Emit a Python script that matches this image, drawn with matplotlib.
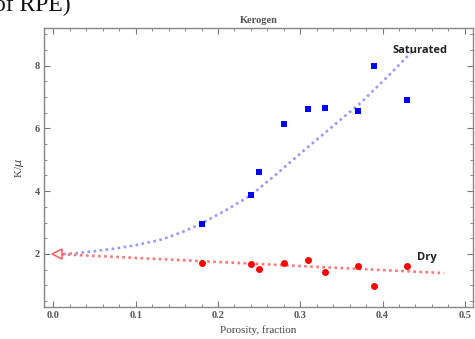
import numpy as np
import matplotlib
matplotlib.use('Agg')
import matplotlib.pyplot as plt
from matplotlib.ticker import MultipleLocator

# measured points
sat_phi = [0.18, 0.24, 0.25, 0.28, 0.31, 0.33, 0.37, 0.39, 0.43]
sat_k = [2.95, 3.87, 4.60, 6.15, 6.63, 6.66, 6.57, 7.98, 6.89]
dry_phi = [0.18, 0.24, 0.25, 0.28, 0.31, 0.33, 0.37, 0.39, 0.43]
dry_k = [1.72, 1.69, 1.53, 1.72, 1.81, 1.41, 1.61, 0.99, 1.63]

# model curves
sat_curve_phi = [0.012, 0.026, 0.05, 0.077, 0.10, 0.13, 0.155, 0.18, 0.21,
                 0.24, 0.27, 0.30, 0.34, 0.372, 0.405, 0.437]
sat_curve_k = [2.00, 2.02, 2.09, 2.18, 2.28, 2.45, 2.68, 2.97, 3.40,
               3.87, 4.52, 5.20, 6.08, 6.78, 7.62, 8.48]
dry_curve_phi = [0.01, 0.475]
dry_curve_k = [1.99, 1.39]

mineral_phi = [0.004]
mineral_k = [2.0]

fig = plt.figure(figsize=(4.75, 3.39), dpi=100)
ax = fig.add_axes([0.0926, 0.0944, 0.9032, 0.8221])

ax.plot(sat_curve_phi, sat_curve_k, linestyle=(0, (1, 1.3)), color='#9a9af2', linewidth=1.9)
ax.plot(dry_curve_phi, dry_curve_k, linestyle=(0, (1, 1.3)), color='#ff7878', linewidth=1.9)
ax.plot(sat_phi, sat_k, 's', color='#0000ff', markersize=4.6, markeredgewidth=0)
ax.plot(dry_phi, dry_k, 'o', color='#ff0000', markersize=5, markeredgewidth=0)
ax.plot(mineral_phi, mineral_k, '<', markersize=7, fillstyle='none',
        markeredgecolor='#ff5a5a', markeredgewidth=1.1)

ax.text(0.412, 8.48, 'Saturated', fontsize=8, fontweight='bold', family='Open Sans',
        color='#222222', va='center', ha='left')
ax.text(0.442, 1.9, 'Dry', fontsize=8, fontweight='bold', family='Open Sans',
        color='#222222', va='center', ha='left')

ax.set_xlim(-0.0115, 0.51)
ax.set_ylim(0.31, 9.19)
ax.xaxis.set_major_locator(MultipleLocator(0.1))
ax.xaxis.set_minor_locator(MultipleLocator(0.02))
ax.yaxis.set_major_locator(MultipleLocator(2))
ax.yaxis.set_minor_locator(MultipleLocator(0.5))
ax.set_xticks([0.0, 0.1, 0.2, 0.3, 0.4, 0.5])
ax.set_xticklabels(['0.0', '0.1', '0.2', '0.3', '0.4', '0.5'])
ax.set_yticks([2, 4, 6, 8])
ax.set_yticklabels(['2', '4', '6', '8'])

ax.tick_params(which='both', direction='in', top=True, right=True, colors='#777777',
               labelcolor='#555555', labelsize=7.5, pad=3)
ax.tick_params(which='major', length=4, width=0.8)
ax.tick_params(which='minor', length=2, width=0.6)
for lbl in ax.get_xticklabels() + ax.get_yticklabels():
    lbl.set_family('Liberation Serif')
    lbl.set_fontweight('bold')
for s in ax.spines.values():
    s.set_color('#888888')
    s.set_linewidth(1.0)

ax.set_title('Kerogen', fontsize=7.5, family='Liberation Serif', fontweight='bold',
             color='#555555', pad=4)
ax.set_xlabel('Porosity, fraction', fontsize=8, family='Liberation Serif',
              color='#444444', labelpad=4)
ax.set_ylabel(r'K/$\mu$', fontsize=8, family='Liberation Serif', color='#444444',
              labelpad=6)

fig.text(-0.012, 0.968, 'of RPE)', fontsize=17, family='Liberation Serif',
         color='#111111', va='baseline', ha='left')

fig.savefig('out.png', dpi=100)
